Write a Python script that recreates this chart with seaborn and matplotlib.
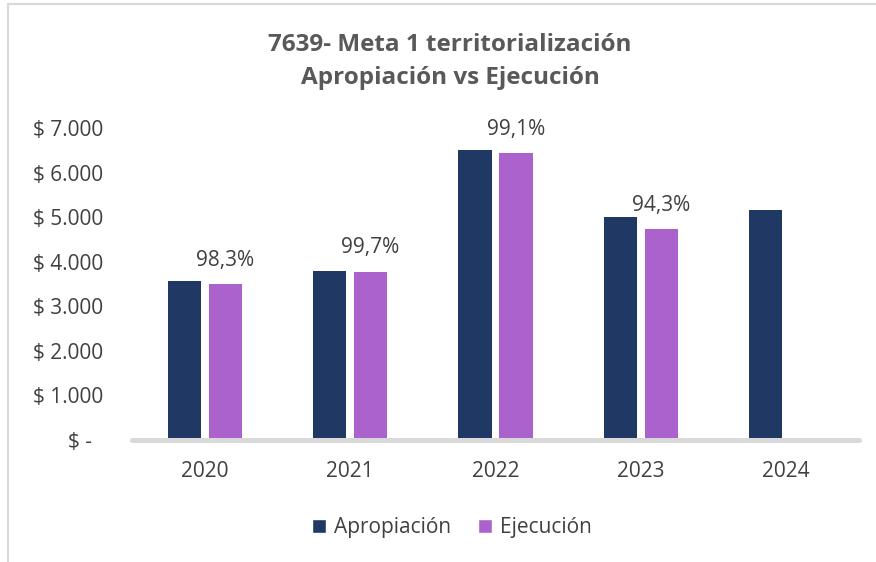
import matplotlib
matplotlib.use("Agg")
import matplotlib.pyplot as plt
import numpy as np
import pandas as pd
import seaborn as sns
from matplotlib.lines import Line2D
from matplotlib.patches import Patch

years = ["2020", "2021", "2022", "2023", "2024"]
apropiacion = [3567, 3792, 6507, 5003, 5160]
ejecucion = [3500, 3780, 6440, 4734, np.nan]
pct_labels = ["98,3%", "99,7%", "99,1%", "94,3%", ""]
series = ["Apropiación", "Ejecución"]
y_ticks = [0, 1000, 2000, 3000, 4000, 5000, 6000, 7000]
y_tick_labels = ["$ -  ", "$ 1.000", "$ 2.000", "$ 3.000", "$ 4.000",
                 "$ 5.000", "$ 6.000", "$ 7.000"]

NAVY = "#1F3864"
PURPLE = "#AC62CC"
TEXT = "#404040"
FS = 15

df = pd.DataFrame({
    "year": years * 2,
    "serie": [series[0]] * len(years) + [series[1]] * len(years),
    "valor": apropiacion + ejecucion,
})

sns.set_theme(style="white")
plt.rcParams["font.family"] = ["Open Sans", "DejaVu Sans"]

fig = plt.figure(figsize=(8.76, 5.62), dpi=100)
ax = fig.add_axes([132 / 876, 122 / 562, 727 / 876, 312 / 562])

sns.barplot(data=df, x="year", y="valor", hue="serie", hue_order=series,
            palette=[NAVY, PURPLE], width=0.564, gap=0.195, ax=ax,
            legend=False, saturation=1, errorbar=None, linewidth=0, zorder=2)

ax.set_xlim(-0.5, 4.5)
ax.set_ylim(0, 7000)
ax.set_yticks(y_ticks)
ax.set_yticklabels(y_tick_labels)
ax.set_xlabel("")
ax.set_ylabel("")
for s in ax.spines.values():
    s.set_visible(False)
ax.axhline(0, color="#D9D9D9", linewidth=3.6, zorder=3, clip_on=False)
ax.tick_params(axis="y", length=0, pad=21, labelsize=FS, labelcolor=TEXT)
ax.tick_params(axis="x", length=0, pad=15, labelsize=FS, labelcolor=TEXT)

# percentage labels over the Ejecución bars
ejec_bars = ax.containers[1]
for bar, lab in zip(ejec_bars, pct_labels):
    if not lab:
        continue
    ax.annotate(lab, (bar.get_x() + bar.get_width() / 2, bar.get_height()),
                xytext=(0, 17), textcoords="offset points", ha="center",
                va="center", fontsize=FS, color=TEXT, annotation_clip=False)

fig.text(450 / 876, 1 - 45 / 562, "7639- Meta 1 territorialización",
         ha="center", va="center", fontsize=17.5, fontweight="bold", color="#595959")
fig.text(450 / 876, 1 - 78 / 562, "Apropiación vs Ejecución",
         ha="center", va="center", fontsize=17.5, fontweight="bold", color="#595959")

handles = [Patch(facecolor=NAVY), Patch(facecolor=PURPLE)]
fig.legend(handles, series, loc="center", bbox_to_anchor=(452 / 876, 1 - 528 / 562),
           ncol=2, frameon=False, fontsize=FS, handlelength=0.65, handleheight=0.65,
           handletextpad=0.4, columnspacing=1.3, labelcolor=TEXT)

# chart border (left and top edges visible)
fig.add_artist(Line2D([8 / 876, 8 / 876], [0, 1 - 4 / 562], color="#D9D9D9", linewidth=1.5))
fig.add_artist(Line2D([8 / 876, 1], [1 - 4 / 562, 1 - 4 / 562], color="#D9D9D9", linewidth=1.5))

fig.savefig("out.png", dpi=100)
